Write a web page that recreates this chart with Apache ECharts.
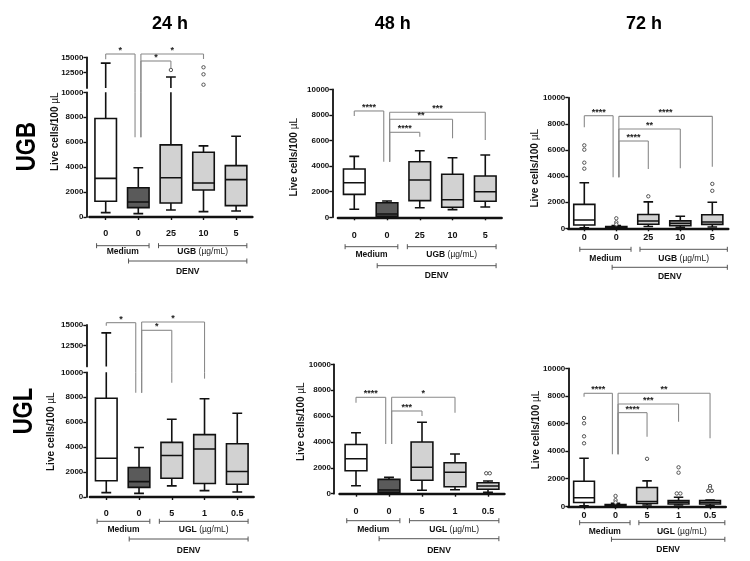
<!DOCTYPE html>
<html><head><meta charset="utf-8">
<script src="https://cdn.jsdelivr.net/npm/echarts@6/dist/echarts.min.js"></script>
<style>html,body{margin:0;padding:0;background:#fff}#c{width:750px;height:561px}</style>
</head><body><div id="c"></div>
<script>
// ---------------- DATA ----------------
const catsUGB = ['0', '0', '25', '10', '5'];
const catsUGL = ['0', '0', '5', '1', '0.5'];
const catRoles = ['medium', 'denv', 'drug', 'drug', 'drug'];
const timeLabels = ['24 h', '48 h', '72 h'];
const rowLabels = ['UGB', 'UGL'];
const yAxisTitle = 'Live cells/100 ';
const yAxisUnit = 'µL';
const groupMedium = 'Medium';
const groupVirus = 'DENV';
const doseUnit = '(µg/mL)';

// box statistics per category: [min, Q1, median, Q3, max]
const boxUGB24 = [[350, 1260, 3100, 7900, 14050], [270, 750, 1200, 2350, 3950], [560, 1120, 3150, 5780, 11800], [430, 2170, 2730, 5190, 5700], [480, 910, 3000, 4120, 6470]];
const boxUGB48 = [[625, 1790, 2705, 3775, 4760], [30, 80, 260, 1140, 1270], [750, 1300, 2910, 4340, 5200], [600, 780, 1370, 3360, 4650], [800, 1250, 2000, 3230, 4870]];
const boxUGB72 = [[40, 250, 635, 1830, 3490], [0, 30, 70, 130, 220], [140, 306, 560, 1060, 2020], [77, 190, 380, 570, 920], [100, 300, 480, 1040, 1990]];
const boxUGL24 = [[350, 1300, 3110, 7920, 14050], [290, 770, 1230, 2360, 3970], [890, 1500, 3330, 4380, 6240], [510, 1080, 3850, 5000, 7880], [400, 1020, 2040, 4270, 6720]];
const boxUGL48 = [[618, 1777, 2705, 3800, 4715], [40, 100, 285, 1110, 1265], [263, 1035, 2040, 4000, 5518], [309, 541, 1654, 2390, 3068], [108, 340, 595, 850, 981]];
const boxUGL72 = [[40, 270, 615, 1820, 3478], [0, 30, 70, 120, 220], [94, 200, 350, 1360, 1845], [94, 170, 300, 420, 660], [58, 167, 290, 420, 450]];

// outliers: [category index, value]
const outUGB24 = [[2, 12940], [3, 13380], [3, 12240], [3, 10550]];
const outUGB48 = [];
const outUGB72 = [[0, 6352], [0, 6020], [0, 5026], [0, 4566], [1, 765], [1, 459], [1, 300], [2, 2450], [4, 3400], [4, 2870]];
const outUGL24 = [];
const outUGL48 = [[4, 1580], [4, 1580]];
const outUGL72 = [[0, 6400], [0, 6014], [0, 5072], [0, 4565], [1, 748], [1, 446], [1, 280], [2, 3440], [3, 2826], [3, 2435], [3, 930], [3, 930], [4, 1470], [4, 1300], [4, 1120], [4, 1120]];

// significance brackets: [from cat, to cat, bar level, left end, right end]
const sigUGB24 = [[0, 1, 15536, 14675, 6390], [1, 3, 15536, 6390, 14724], [1, 2, 14400, 6390, 13214]];
const sigUGB24Text = ['*', '*', '*'];
const sigUGB48 = [[0, 1, 8307, 7917, 4349], [1, 4, 8203, 4349, 6042], [1, 3, 7656, 4349, 6172], [1, 2, 6641, 4349, 6302]];
const sigUGB48Text = ['****', '***', '**', '****'];
const sigUGB72 = [[0, 1, 8622, 7730, 3903], [1, 4, 8571, 3903, 4719], [1, 3, 7602, 3903, 4592], [1, 2, 6684, 3903, 4541]];
const sigUGB72Text = ['****', '****', '**', '****'];
const sigUGL24 = [[0, 1, 15282, 14915, 8363], [1, 3, 15362, 8363, 9492], [1, 2, 14360, 8363, 9169]];
const sigUGL24Text = ['*', '*', '*'];
const sigUGL48 = [[0, 1, 7448, 7036, 3850], [1, 3, 7448, 3850, 6263], [1, 2, 6392, 3850, 6005]];
const sigUGL48Text = ['****', '*', '***'];
const sigUGL72 = [[0, 1, 8188, 7947, 3770], [1, 4, 8188, 3770, 4928], [1, 3, 7415, 3770, 6135], [1, 2, 6787, 3770, 5048]];
const sigUGL72Text = ['****', '**', '***', '****'];

// axis scales
const yMain = { min: 0, max: 10000, interval: 2000 };
const yBroken = { min: 10000, max: 15000, interval: 2500 };

// ---------------- STYLE / LAYOUT ----------------
const FONT = 'Liberation Sans';
const FILL = { medium: '#ffffff', denv: '#5a5a5a', drug: '#d2d2d2' };
const SPAN_A = { med: [-0.28, 1.33], drug: [1.62, 4.33], denv: [0.7, 4.33] };
const SPAN_B = { med: [-0.14, 1.46], drug: [1.74, 4.47], denv: [0.87, 4.47] };
const panels = [
  { cats: catsUGB, drug: 'UGB', box: boxUGB24, out: outUGB24, sig: sigUGB24, sigT: sigUGB24Text, broken: true,
    L: { left: 89.4, width: 163, upTop: 57.3, upH: 30.8, top: 92.3, height: 124.7, yOff: 3, xOff: 7, grp: [28.7, 34.3, 44, 54.7], name: [55, 131.7], span: SPAN_A } },
  { cats: catsUGB, drug: 'UGB', box: boxUGB48, out: outUGB48, sig: sigUGB48, sigT: sigUGB48Text,
    L: { left: 337.9, width: 163.75, top: 89.3, height: 128, yOff: 5.6, xOff: 8.7, grp: [29.4, 37, 48.4, 58.4], name: [294.3, 157.3], span: SPAN_A } },
  { cats: catsUGB, drug: 'UGB', box: boxUGB72, out: outUGB72, sig: sigUGB72, sigT: sigUGB72Text,
    L: { left: 568.3, width: 160, top: 97.7, height: 130.6, yOff: 0, xOff: 0, grp: [21, 30, 39, 48.7], name: [535, 168.3], span: SPAN_B } },
  { cats: catsUGL, drug: 'UGL', box: boxUGL24, out: outUGL24, sig: sigUGL24, sigT: sigUGL24Text, broken: true,
    L: { left: 89.9, width: 163.75, upTop: 325, upH: 41.4, top: 372.3, height: 124.7, yOff: 3.6, xOff: 6.7, grp: [24.3, 33, 42, 53.7], name: [51.7, 431.7], span: SPAN_A } },
  { cats: catsUGL, drug: 'UGL', box: boxUGL48, out: outUGL48, sig: sigUGL48, sigT: sigUGL48Text,
    L: { left: 339.5, width: 165, top: 364.3, height: 129.4, yOff: 5.5, xOff: 8, grp: [27, 36.3, 45, 57], name: [301.7, 421.7], span: SPAN_A } },
  { cats: catsUGL, drug: 'UGL', box: boxUGL72, out: outUGL72, sig: sigUGL72, sigT: sigUGL72Text,
    L: { left: 568.3, width: 157.5, top: 368.3, height: 138, yOff: 0, xOff: 0, grp: [16.4, 25, 33, 43.7], name: [536.7, 430], span: SPAN_B } }
];
const titlePos = [[170, 24], [392.7, 24], [644, 24]];
const rowPos = [[28, 146.7], [24.3, 411]];
const NUDGE_START = 0.08, NUDGE_END = 0.1;

// ---------------- BUILD ----------------
const grids = [], xAxes = [], yAxes = [], series = [];

function yAxisCfg(gi, sc, L, hideMin) {
  return {
    gridIndex: gi, type: 'value', min: sc.min, max: sc.max, interval: sc.interval, offset: L.yOff,
    axisLine: { show: true, lineStyle: { color: '#111', width: 1.8 } },
    axisTick: { show: true, length: 3, lineStyle: { color: '#111', width: 1.4 } },
    axisLabel: { show: true, fontSize: 8, fontWeight: 'bold', color: '#111', margin: 3, fontFamily: FONT,
      showMinLabel: !hideMin, formatter: v => String(v) },
    splitLine: { show: false }
  };
}

function boxSeries(ai, p) {
  return {
    type: 'custom', xAxisIndex: ai, yAxisIndex: ai, clip: true, z: 3, silent: true,
    data: p.box.map((b, i) => [i].concat(b)),
    encode: { x: 0, y: [1, 2, 3, 4, 5] },
    renderItem(params, api) {
      const i = api.value(0);
      const v = [1, 2, 3, 4, 5].map(d => api.value(d));
      const bw = api.size([1, 0])[0];
      const x = api.coord([i, 0])[0];
      const Y = val => api.coord([i, val])[1];
      const hb = bw * 0.33, hc = bw * 0.15;
      const st = { stroke: '#111', lineWidth: 1.6, fill: null };
      return { type: 'group', children: [
        { type: 'line', shape: { x1: x, y1: Y(v[3]), x2: x, y2: Y(v[4]) }, style: st },
        { type: 'line', shape: { x1: x - hc, y1: Y(v[4]), x2: x + hc, y2: Y(v[4]) }, style: st },
        { type: 'line', shape: { x1: x, y1: Y(v[1]), x2: x, y2: Y(v[0]) }, style: st },
        { type: 'line', shape: { x1: x - hc, y1: Y(v[0]), x2: x + hc, y2: Y(v[0]) }, style: st },
        { type: 'rect', shape: { x: x - hb, y: Y(v[3]), width: 2 * hb, height: Y(v[1]) - Y(v[3]) },
          style: { fill: FILL[catRoles[i]], stroke: '#111', lineWidth: 1.6 } },
        { type: 'line', shape: { x1: x - hb, y1: Y(v[2]), x2: x + hb, y2: Y(v[2]) }, style: st }
      ] };
    }
  };
}

function outlierSeries(ai, pts) {
  // spread coincident points horizontally
  const near = (a, b) => a[0] === b[0] && Math.abs(a[1] - b[1]) < 60;
  const data = pts.map((pt, k) => {
    const n = pts.filter(q => near(q, pt)).length;
    let rank = 0;
    for (let j = 0; j < k; j++) if (near(pts[j], pt)) rank++;
    return [pt[0], pt[1], rank - (n - 1) / 2];
  });
  return {
    type: 'custom', xAxisIndex: ai, yAxisIndex: ai, clip: false, z: 4, silent: true,
    data, encode: { x: 0, y: 1 },
    renderItem(params, api) {
      const c = api.coord([api.value(0), api.value(1)]);
      return { type: 'circle', shape: { cx: c[0] + api.value(2) * 3.6, cy: c[1], r: 1.7 },
        style: { fill: '#fff', stroke: '#555', lineWidth: 1 } };
    }
  };
}

function sigSeries(ai, p, lo, hi, extendLo) {
  return {
    type: 'custom', xAxisIndex: ai, yAxisIndex: ai, clip: false, z: 5, silent: true,
    data: p.sig.map(s => s.slice()), encode: { x: [0, 1], y: [2, 3, 4] },
    renderItem(params, api) {
      const a = api.value(0), b = api.value(1), top = api.value(2), le = api.value(3), re = api.value(4);
      const bw = api.size([1, 0])[0];
      const x0 = api.coord([0, 0])[0];
      const xa = x0 + (a + (a === 1 ? NUDGE_START : 0)) * bw;
      const xb = x0 + (b - (b === 1 ? NUDGE_END : 0)) * bw;
      const Y = val => api.coord([0, val])[1];
      const lst = { stroke: '#8a8a8a', lineWidth: 1.1 };
      const ch = [];
      const seg = (x, v1, v2) => {
        const s = Math.max(Math.min(v1, v2), lo), e = Math.min(Math.max(v1, v2), hi);
        if (s >= e) return;
        let y1 = Y(e), y2 = Y(s);
        if (s === lo) y2 += extendLo;
        ch.push({ type: 'line', shape: { x1: x, y1, x2: x, y2 }, style: lst });
      };
      seg(xa, top, le);
      seg(xb, top, re);
      if (top >= lo && top <= hi) {
        const yt = Y(top);
        ch.push({ type: 'line', shape: { x1: xa, y1: yt, x2: xb, y2: yt }, style: lst });
        ch.push({ type: 'text', x: (xa + xb) / 2, y: yt + 1,
          style: { text: p.sigT[params.dataIndex], fill: '#222', font: 'bold 9px ' + FONT, textAlign: 'center', textVerticalAlign: 'bottom' } });
      }
      return { type: 'group', children: ch };
    }
  };
}

function groupSeries(ai, p) {
  const L = p.L;
  const groups = [
    { text: '{b|' + groupMedium + '}', span: L.span.med, level: 0 },
    { text: '{b|' + p.drug + ' }{n|' + doseUnit + '}', span: L.span.drug, level: 0 },
    { text: '{b|' + groupVirus + '}', span: L.span.denv, level: 1 }
  ];
  return {
    type: 'custom', xAxisIndex: ai, yAxisIndex: ai, clip: false, z: 5, silent: true,
    data: groups.map((g, i) => [i, 0]), encode: { x: 0, y: 1 },
    renderItem(params, api) {
      const g = groups[params.dataIndex];
      const bw = api.size([1, 0])[0];
      const z = api.coord([0, 0]);
      const xa = z[0] + g.span[0] * bw, xb = z[0] + g.span[1] * bw;
      const yl = z[1] + (g.level === 0 ? L.grp[0] : L.grp[2]);
      const yt = z[1] + (g.level === 0 ? L.grp[1] : L.grp[3]);
      const lst = { stroke: '#555', lineWidth: 1 };
      return { type: 'group', children: [
        { type: 'line', shape: { x1: xa, y1: yl, x2: xb, y2: yl }, style: lst },
        { type: 'line', shape: { x1: xa, y1: yl - 2.5, x2: xa, y2: yl + 2.5 }, style: lst },
        { type: 'line', shape: { x1: xb, y1: yl - 2.5, x2: xb, y2: yl + 2.5 }, style: lst },
        { type: 'text', x: (xa + xb) / 2, y: yt, style: { text: g.text, textAlign: 'center', textVerticalAlign: 'middle',
          rich: { b: { font: 'bold 8.5px ' + FONT, fill: '#111' }, n: { font: '8.5px ' + FONT, fill: '#222' } } } }
      ] };
    }
  };
}

panels.forEach(p => {
  const L = p.L;
  let upperIdx = -1;
  if (p.broken) {
    upperIdx = grids.length;
    grids.push({ left: L.left, top: L.upTop, width: L.width, height: L.upH });
    xAxes.push({ gridIndex: upperIdx, type: 'category', data: p.cats, show: false });
    yAxes.push(yAxisCfg(upperIdx, yBroken, L, true));
  }
  const mi = grids.length;
  grids.push({ left: L.left, top: L.top, width: L.width, height: L.height });
  xAxes.push({
    gridIndex: mi, type: 'category', data: p.cats, offset: L.xOff,
    axisLine: { show: true, lineStyle: { color: '#111', width: 2.4 } },
    axisTick: { show: true, alignWithLabel: true, length: 3, lineStyle: { color: '#111', width: 1.4 } },
    axisLabel: { interval: 0, fontSize: 9, fontWeight: 'bold', color: '#111', margin: 5, fontFamily: FONT }
  });
  yAxes.push(yAxisCfg(mi, yMain, L, false));

  if (p.broken) {
    const gap = L.top - (L.upTop + L.upH);
    series.push(boxSeries(upperIdx, p));
    series.push(boxSeries(mi, p));
    series.push(outlierSeries(upperIdx, p.out.filter(o => o[1] > yBroken.min)));
    series.push(outlierSeries(mi, p.out.filter(o => o[1] <= yBroken.min)));
    series.push(sigSeries(upperIdx, p, yBroken.min, Infinity, gap));
    series.push(sigSeries(mi, p, -Infinity, yMain.max, 0));
  } else {
    series.push(boxSeries(mi, p));
    series.push(outlierSeries(mi, p.out));
    series.push(sigSeries(mi, p, -Infinity, Infinity, 0));
  }
  series.push(groupSeries(mi, p));
});

const graphic = [];
timeLabels.forEach((t, i) => graphic.push({ type: 'text', x: titlePos[i][0], y: titlePos[i][1],
  style: { text: t, font: 'bold 18px ' + FONT, fill: '#000', textAlign: 'center', textVerticalAlign: 'middle' } }));
rowLabels.forEach((t, i) => graphic.push({ type: 'text', x: rowPos[i][0], y: rowPos[i][1], rotation: Math.PI / 2, scaleX: 0.82,
  style: { text: t, font: 'bold 27px ' + FONT, fill: '#000', textAlign: 'center', textVerticalAlign: 'middle' } }));
panels.forEach(p => graphic.push({ type: 'text', x: p.L.name[0], y: p.L.name[1], rotation: Math.PI / 2,
  style: { text: '{b|' + yAxisTitle + '}{n|' + yAxisUnit + '}', textAlign: 'center', textVerticalAlign: 'middle',
    rich: { b: { font: 'bold 10px ' + FONT, fill: '#111' }, n: { font: '10px ' + FONT, fill: '#111' } } } }));

const chart = echarts.init(document.getElementById('c'), null, { renderer: 'canvas' });
chart.setOption({
  animation: false,
  backgroundColor: '#fff',
  textStyle: { fontFamily: FONT },
  grid: grids, xAxis: xAxes, yAxis: yAxes, series, graphic
});
</script>
</body></html>
